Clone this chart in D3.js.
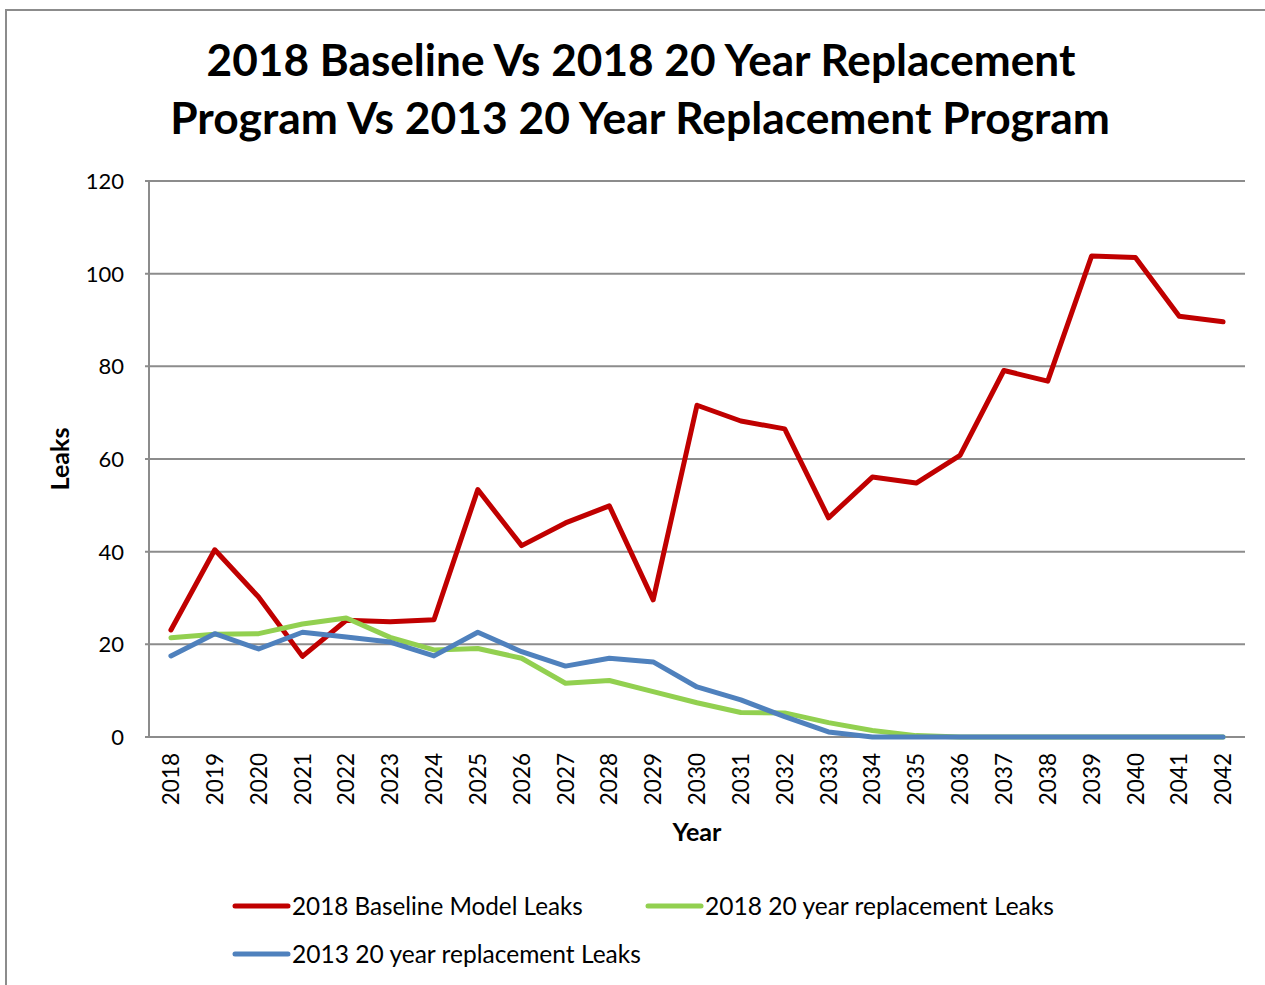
<!DOCTYPE html>
<html>
<head>
<meta charset="utf-8">
<script src="https://cdn.jsdelivr.net/npm/d3@7"></script>
<style>
	body { margin: 0; background: #fff; }
	text { font-family: Lato, "Open Sans", sans-serif; fill: #000; }
</style>
</head>
<body>
<svg id="chart" width="1265" height="985"></svg>
<script>
var years = ["2018", "2019", "2020", "2021", "2022", "2023", "2024", "2025", "2026", "2027", "2028", "2029",
	"2030", "2031", "2032", "2033", "2034", "2035", "2036", "2037", "2038", "2039", "2040", "2041", "2042"];

var baselineLeaks = [23.1, 40.4, 30.2, 17.4, 25.2, 24.9, 25.3, 53.4, 41.3, 46.2, 49.9, 29.6,
	71.6, 68.2, 66.5, 47.3, 56.1, 54.8, 60.8, 79.1, 76.8, 103.8, 103.5, 90.8, 89.6];
var replace2018Leaks = [21.4, 22.2, 22.3, 24.4, 25.7, 21.5, 18.8, 19.1, 17.0, 11.6, 12.2, 9.8,
	7.4, 5.3, 5.2, 3.1, 1.4, 0.3, 0, 0, 0, 0, 0, 0, 0];
var replace2013Leaks = [17.5, 22.3, 19.0, 22.6, 21.6, 20.5, 17.5, 22.6, 18.4, 15.3, 17.0, 16.2,
	10.8, 8.0, 4.4, 1.1, 0, 0, 0, 0, 0, 0, 0, 0, 0];

var seriesNames = ["2018 Baseline Model Leaks", "2018 20 year replacement Leaks", "2013 20 year replacement Leaks"];
var yTicks = [0, 20, 40, 60, 80, 100, 120];

var colors = ["#c00000", "#92d050", "#4f81bd"];
var series = [baselineLeaks, replace2018Leaks, replace2013Leaks];

var svg = d3.select("#chart");

// scale a text's font so it spans the given width
function fit(sel, w) {
	var len = sel.node().getComputedTextLength();
	var fs = parseFloat(sel.attr("font-size"));
	sel.attr("font-size", fs * w / len);
}

// outer chart border (runs off the right and bottom)
svg.append("path")
	.attr("d", "M6,990 L6,10 L1270,10")
	.style("fill", "none")
	.style("stroke", "#8c8c8c")
	.style("stroke-width", 2);

var plotLeft = 149, plotRight = 1245, plotTop = 181, plotBottom = 737;

var x = d3.scalePoint()
	.domain(years)
	.range([plotLeft, plotRight])
	.padding(0.5);

var y = d3.scaleLinear()
	.domain([0, 120])
	.range([plotBottom, plotTop]);

// gridlines
svg.append("g")
	.selectAll("line")
	.data(yTicks)
	.enter()
	.append("line")
	.attr("x1", plotLeft - 4)
	.attr("x2", plotRight)
	.attr("y1", function (d) { return y(d); })
	.attr("y2", function (d) { return y(d); })
	.style("stroke", "#8c8c8c")
	.style("stroke-width", 2);

svg.append("line")
	.attr("x1", plotLeft)
	.attr("x2", plotLeft)
	.attr("y1", plotTop)
	.attr("y2", plotBottom)
	.style("stroke", "#8c8c8c")
	.style("stroke-width", 2);

// y tick labels
svg.append("g")
	.selectAll("text")
	.data(yTicks)
	.enter()
	.append("text")
	.attr("x", 124)
	.attr("y", function (d) { return y(d); })
	.attr("dy", "0.36em")
	.attr("text-anchor", "end")
	.attr("font-size", 22)
	.text(function (d) { return d; });

// x tick labels, rotated
svg.append("g")
	.selectAll("text")
	.data(years)
	.enter()
	.append("text")
	.attr("transform", function (d) { return "translate(" + x(d) + ",753) rotate(-90)"; })
	.attr("dy", "0.36em")
	.attr("text-anchor", "end")
	.attr("font-size", 22.5)
	.text(function (d) { return d; });

// series lines
var line = d3.line()
	.x(function (d, i) { return x(years[i]); })
	.y(function (d) { return y(d); });

series.forEach(function (values, i) {
	svg.append("path")
		.datum(values)
		.attr("d", line)
		.style("fill", "none")
		.style("stroke", colors[i])
		.style("stroke-width", 5)
		.style("stroke-linejoin", "round")
		.style("stroke-linecap", "round");
});

// titles
var t1 = svg.append("text")
	.attr("x", 641)
	.attr("y", 76)
	.attr("text-anchor", "middle")
	.attr("font-size", 40)
	.attr("font-weight", "bold")
	.text("2018 Baseline Vs 2018 20 Year Replacement");
fit(t1, 869);

var t2 = svg.append("text")
	.attr("x", 640)
	.attr("y", 134)
	.attr("text-anchor", "middle")
	.attr("font-size", 40)
	.attr("font-weight", "bold")
	.text("Program Vs 2013 20 Year Replacement Program");
fit(t2, 940);

var xTitle = svg.append("text")
	.attr("x", 697)
	.attr("y", 841)
	.attr("text-anchor", "middle")
	.attr("font-size", 22)
	.attr("font-weight", "bold")
	.text("Year");
fit(xTitle, 49);

var yTitle = svg.append("text")
	.attr("transform", "translate(60,459) rotate(-90)")
	.attr("dy", "0.36em")
	.attr("text-anchor", "middle")
	.attr("font-size", 22)
	.attr("font-weight", "bold")
	.text("Leaks");
fit(yTitle, 63);

// legend
var legendPos = [[235, 906, 291], [648, 906, 349], [235, 954, 349]];
seriesNames.forEach(function (name, i) {
	var p = legendPos[i];
	svg.append("line")
		.attr("x1", p[0])
		.attr("x2", p[0] + 53)
		.attr("y1", p[1])
		.attr("y2", p[1])
		.style("stroke", colors[i])
		.style("stroke-width", 5)
		.style("stroke-linecap", "round");
	var t = svg.append("text")
		.attr("x", p[0] + 57)
		.attr("y", p[1])
		.attr("dy", "0.36em")
		.attr("font-size", 22)
		.text(name);
	fit(t, p[2]);
});
</script>
</body>
</html>
